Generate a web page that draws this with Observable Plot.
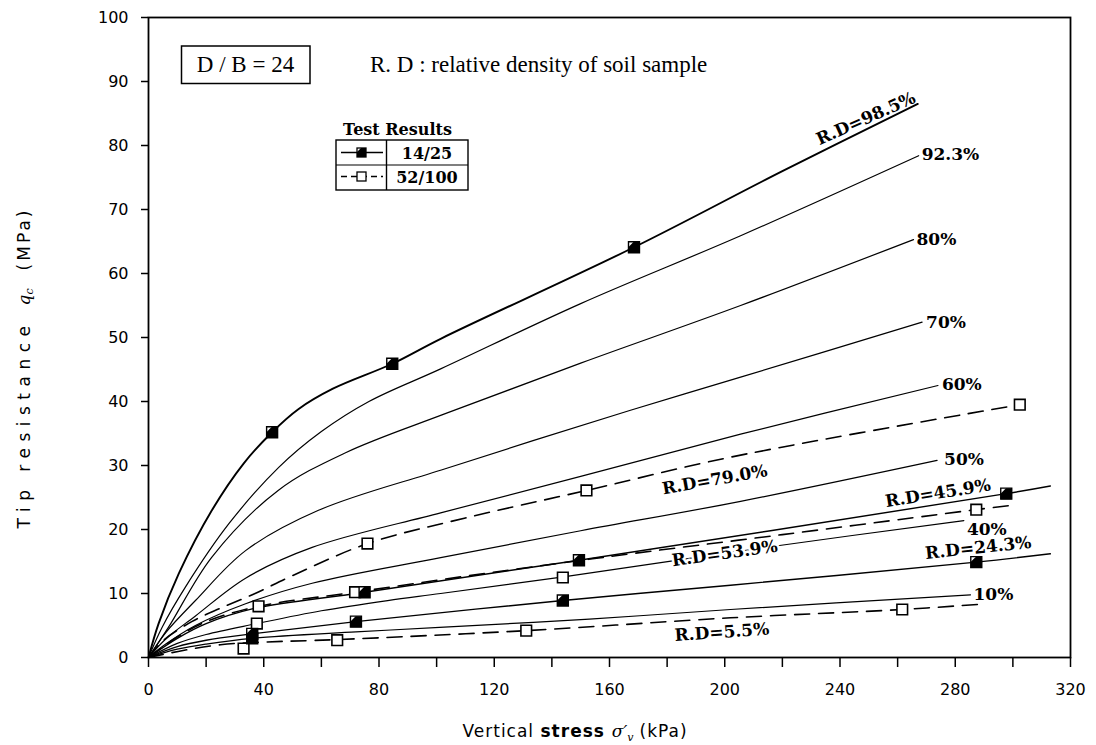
<!DOCTYPE html>
<html>
<head>
<meta charset="utf-8">
<script src="https://cdn.jsdelivr.net/npm/d3@7"></script>
<script src="https://cdn.jsdelivr.net/npm/@observablehq/plot@0.6"></script>
<style>
  html,body{margin:0;padding:0;background:#fff;}
  #wrap{position:relative;width:1096px;height:745px;overflow:hidden;background:#fff;}
  #wrap svg{position:absolute;left:0;top:0;}
</style>
</head>
<body>
<div id="wrap"></div>
<script>
// ---------------- data (σ'v in kPa, qc in MPa) ----------------
const xTicks = [0,20,40,60,80,100,120,140,160,180,200,220,240,260,280,300,320];
const xTickLabels = [0,40,80,120,160,200,240,280,320];
const yTicks = [0,10,20,30,40,50,60,70,80,90,100];

// reference curves (thin solid), labelled by relative density
const rd923 = [[0,0],[4.7,4.7],[12.8,11],[27.9,20.9],[45.2,29.7],[60,35.3],[76.5,40.0],[101.4,45.1],[150,55.3],[205.5,65.9],[267.3,78.4]];
const rd80  = [[0,0],[6.9,4.7],[22,15.7],[45,26.1],[68.4,32.0],[103,38.1],[150,46.0],[205.5,55],[265.5,65.3]];
const rd70  = [[0,0],[6,3.9],[16.3,8.9],[33.7,16.7],[59,23],[103,29.5],[167,38.6],[205.5,43.8],[268.5,52.4]];
const rd60  = [[0,0],[6,2.9],[16.3,6.5],[33.7,12.4],[56.8,17.2],[101.4,22.6],[150,28.3],[205.5,34.9],[274,42.5]];
const rd50  = [[0,0],[6,2.1],[16.3,5.0],[33.7,8.4],[56.8,11.6],[101.4,15.6],[150,19.8],[205.5,24.4],[273.7,30.8]];
const rd40  = [[0,0],[10,2.2],[20,3.6],[37.6,5.3],[60,7.3],[83,8.9],[101.4,10.0],[144,12.6],[219,17.5],[283,21.4]];
const rd10  = [[0,0],[10,1.3],[20,2.1],[36,3.0],[72,4.0],[101,4.7],[153,6.0],[202,7.5],[285.3,9.8]];

// test 14/25 (solid curves, filled markers)
const rd985 = [[0,0],[3.5,5.3],[10.5,13.1],[22,23],[33,30.3],[42.9,35.2],[52,38.8],[64,42.0],[84.6,45.9],[101.4,49.8],[168.5,64.1],[220,76],[267,86.5]];
const rd459 = [[0,0],[10,3.0],[20,5.3],[36,7.6],[75,10.2],[149.4,15.2],[297.7,25.6],[313,26.8]];
const rd243 = [[0,0],[10,1.7],[20,2.7],[36,3.7],[72,5.6],[143.8,8.9],[202,11.3],[287.3,14.9],[313,16.2]];
const pts985 = [[42.9,35.2],[84.6,45.9],[168.5,64.1]];
const pts459 = [[36,3.0],[75,10.2],[149.4,15.2],[297.7,25.6]];
const pts243 = [[36,3.7],[72,5.6],[143.8,8.9],[287.3,14.9]];

// test 52/100 (dashed curves, open markers)
const rd790 = [[0,0],[5,2.6],[15,5.6],[25.5,7.8],[37,10],[50,12.8],[76,17.8],[110,21.8],[152,26.1],[202,31.3],[302.4,39.5]];
const rd539 = [[0,0],[10,3.2],[20,5.6],[38.2,8.0],[71.7,10.2],[110,12.7],[157,15.6],[220,19.2],[287.3,23.1],[300,23.8]];
const rd55  = [[0,0],[12,1.1],[25,2.0],[40,2.4],[65.5,2.8],[131.1,4.2],[202,6.2],[261.6,7.5],[288,8.3]];
const pts790 = [[37.6,5.3],[76,17.8],[152,26.1],[302.4,39.5]];
const pts539 = [[38.2,8.0],[71.7,10.2],[143.8,12.5],[287.3,23.1]];
const pts55  = [[33,1.4],[65.5,2.7],[131.1,4.2],[261.6,7.5]];

// ---------------- helpers ----------------
const serif = "'DejaVu Serif', serif";
const sans = "'DejaVu Sans', sans-serif";
const times = "'Liberation Serif', 'Times New Roman', serif";

function rowsOf(name, pts){ return pts.map(([x,y]) => ({name, x, y})); }
function interp(pts, x){
  for (let i = 1; i < pts.length; i++) {
    const [x0,y0] = pts[i-1], [x1,y1] = pts[i];
    if (x <= x1) return y0 + (y1 - y0) * (x - x0) / (x1 - x0);
  }
  return pts[pts.length-1][1];
}

const refRows = [].concat(
  rowsOf("92.3", rd923), rowsOf("80", rd80), rowsOf("70", rd70), rowsOf("60", rd60),
  rowsOf("50", rd50), rowsOf("40", rd40), rowsOf("10", rd10));
const solidTestRows = [].concat(rowsOf("45.9", rd459), rowsOf("24.3", rd243));
const dashedRows = [].concat(rowsOf("79.0", rd790), rowsOf("53.9", rd539), rowsOf("5.5", rd55));
const filledPts = [].concat(rowsOf("98.5", pts985), rowsOf("45.9", pts459), rowsOf("24.3", pts243));
const openPts = [].concat(rowsOf("79.0", pts790), rowsOf("53.9", pts539), rowsOf("5.5", pts55));

// half-filled square symbol (black except a small upper-left corner)
const halfSquare = {
  draw(context, size) {
    const s = Math.sqrt(size) / 2, a = 0.95 * s;
    context.moveTo(-s + a, -s);
    context.lineTo(s, -s);
    context.lineTo(s, s);
    context.lineTo(-s, s);
    context.lineTo(-s, -s + a);
    context.closePath();
  }
};

const endLabels = [
  {curve: rd923, text: "92.3%", dx: 3, dy: -1},
  {curve: rd80,  text: "80%",   dx: 3, dy: 0},
  {curve: rd70,  text: "70%",   dx: 4, dy: 0},
  {curve: rd60,  text: "60%",   dx: 4, dy: -1},
  {curve: rd50,  text: "50%",   dx: 7, dy: -1},
  {curve: rd40,  text: "40%",   dx: 3, dy: 9},
  {curve: rd10,  text: "10%",   dx: 3, dy: 0}
];
const rotLabels = [
  {curve: rd985, text: "R.D=98.5%", at: 249,   dy: -11, rotate: -24},
  {curve: rd790, text: "R.D=79.0%", at: 196.5, dy: 19,  rotate: -10},
  {curve: rd459, text: "R.D=45.9%", at: 274,   dy: -11, rotate: -9},
  {curve: rd40,  text: "R.D=53.9%", at: 200,   dy: 0,   rotate: -8, halo: true},
  {curve: rd243, text: "R.D=24.3%", at: 288,   dy: -14, rotate: -6},
  {curve: rd55,  text: "R.D=5.5%",  at: 199,   dy: 14,  rotate: -4}
];

const labelStyle = {fontFamily: serif, fontWeight: "bold", fontSize: 17, fill: "black"};
const crv = "catmull-rom";

const marks = [
  Plot.line(refRows, {x: "x", y: "y", z: "name", curve: crv, stroke: "black", strokeWidth: 1.2}),
  Plot.line(solidTestRows, {x: "x", y: "y", z: "name", curve: crv, stroke: "black", strokeWidth: 1.4}),
  Plot.line(rowsOf("98.5", rd985), {x: "x", y: "y", curve: crv, stroke: "black", strokeWidth: 1.9}),
  Plot.line(dashedRows, {x: "x", y: "y", z: "name", curve: crv, stroke: "black", strokeWidth: 1.6, strokeDasharray: "15,9"}),
  Plot.dot(openPts, {x: "x", y: "y", symbol: "square", r: 6, fill: "white", stroke: "black", strokeWidth: 1.6}),
  Plot.dot(filledPts, {x: "x", y: "y", symbol: "square", r: 6.2, fill: "white", stroke: "black", strokeWidth: 1.4}),
  Plot.dot(filledPts, {x: "x", y: "y", symbol: halfSquare, r: 6.2, fill: "black", stroke: "none"}),
  ...endLabels.map(l => Plot.text([l], {
    x: d => d.curve[d.curve.length-1][0], y: d => d.curve[d.curve.length-1][1],
    text: d => d.text, textAnchor: "start", dx: l.dx, dy: l.dy, ...labelStyle})),
  ...rotLabels.map(l => Plot.text([l], {
    x: d => d.at, y: d => interp(d.curve, d.at), text: d => d.text,
    rotate: l.rotate, dy: l.dy, textAnchor: "middle", lineAnchor: "middle",
    ...(l.halo ? {stroke: "white", strokeWidth: 5} : {}), ...labelStyle})),
  Plot.frame({stroke: "black", strokeWidth: 1.8})
];

const chart = Plot.plot({
  width: 1096, height: 745,
  marginLeft: 148, marginRight: 26, marginTop: 17, marginBottom: 88,
  style: {fontFamily: sans, fontSize: "16px", color: "black", background: "white", overflow: "visible"},
  x: {domain: [0, 320], ticks: xTicks, tickSize: 10, tickPadding: 16,
      tickFormat: d => xTickLabels.includes(d) ? String(d) : "", label: null},
  y: {domain: [0, 100], ticks: yTicks, tickSize: 7, tickPadding: 13, label: null},
  marks
});
const wrap = document.getElementById("wrap");
wrap.appendChild(chart);
chart.querySelectorAll('[aria-label="x-axis tick"], [aria-label="y-axis tick"]').forEach(g => g.setAttribute("stroke-width", 1.5));

// ---------------- annotations overlay ----------------
const ov = d3.select(wrap).append("svg")
  .attr("width", 1096).attr("height", 745)
  .style("pointer-events", "none");

// D/B box and note
ov.append("rect").attr("x", 181.5).attr("y", 46).attr("width", 128.5).attr("height", 37.5)
  .attr("fill", "none").attr("stroke", "black").attr("stroke-width", 1.5);
ov.append("text").attr("x", 245.5).attr("y", 72).attr("text-anchor", "middle")
  .attr("font-family", times).attr("font-size", 23).text("D / B = 24");
ov.append("text").attr("x", 370).attr("y", 72)
  .attr("font-family", times).attr("font-size", 23).text("R. D : relative density of soil sample");

// legend table
ov.append("text").attr("x", 397.5).attr("y", 135).attr("text-anchor", "middle")
  .attr("font-family", serif).attr("font-weight", "bold").attr("font-size", 16).text("Test Results");
ov.append("rect").attr("x", 336).attr("y", 140).attr("width", 132).attr("height", 50)
  .attr("fill", "none").attr("stroke", "black").attr("stroke-width", 1.4);
ov.append("line").attr("x1", 386.5).attr("x2", 386.5).attr("y1", 140).attr("y2", 190).attr("stroke", "black").attr("stroke-width", 1.4);
ov.append("line").attr("x1", 336).attr("x2", 468).attr("y1", 165).attr("y2", 165).attr("stroke", "black").attr("stroke-width", 1.2);
ov.append("line").attr("x1", 341).attr("x2", 383).attr("y1", 152.5).attr("y2", 152.5).attr("stroke", "black").attr("stroke-width", 1.5);
ov.append("rect").attr("x", 357).attr("y", 148).attr("width", 9).attr("height", 9).attr("fill", "white").attr("stroke", "black").attr("stroke-width", 1.3);
ov.append("path").attr("d", "M361,148 L366,148 L366,157 L357,157 L357,152 Z").attr("fill", "black");
ov.append("line").attr("x1", 341).attr("x2", 383).attr("y1", 176.5).attr("y2", 176.5).attr("stroke", "black").attr("stroke-width", 1.5).attr("stroke-dasharray", "6,4");
ov.append("rect").attr("x", 357).attr("y", 172).attr("width", 9).attr("height", 9).attr("fill", "white").attr("stroke", "black").attr("stroke-width", 1.3);
ov.append("text").attr("x", 427).attr("y", 158.5).attr("text-anchor", "middle")
  .attr("font-family", serif).attr("font-weight", "bold").attr("font-size", 16).text("14/25");
ov.append("text").attr("x", 427).attr("y", 182.5).attr("text-anchor", "middle")
  .attr("font-family", serif).attr("font-weight", "bold").attr("font-size", 16).text("52/100");

// axis titles
const yt = ov.append("text").attr("transform", "translate(30,368) rotate(-90)")
  .attr("text-anchor", "middle").attr("font-family", sans).attr("font-size", 17);
yt.append("tspan").attr("letter-spacing", 6.5).text("Tip resistance");
yt.append("tspan").attr("dx", 14).attr("font-family", serif).attr("font-style", "italic").text("q");
yt.append("tspan").attr("dy", 3).attr("font-size", 11).attr("font-family", serif).attr("font-style", "italic").text("c");
yt.append("tspan").attr("dy", -3).attr("dx", 18).attr("letter-spacing", 3).text("(MPa)");

const xt = ov.append("text").attr("x", 575).attr("y", 737)
  .attr("text-anchor", "middle").attr("font-family", sans).attr("font-size", 17);
xt.append("tspan").attr("letter-spacing", 1).text("Vertical ");
xt.append("tspan").attr("font-weight", "bold").attr("letter-spacing", 1).text("stress ");
xt.append("tspan").attr("font-family", serif).attr("font-style", "italic").text("σ′");
xt.append("tspan").attr("dy", 4).attr("font-size", 11).attr("font-family", serif).attr("font-style", "italic").text("v");
xt.append("tspan").attr("dy", -4).attr("dx", 6).attr("letter-spacing", 1).text("(kPa)");
</script>
</body>
</html>
